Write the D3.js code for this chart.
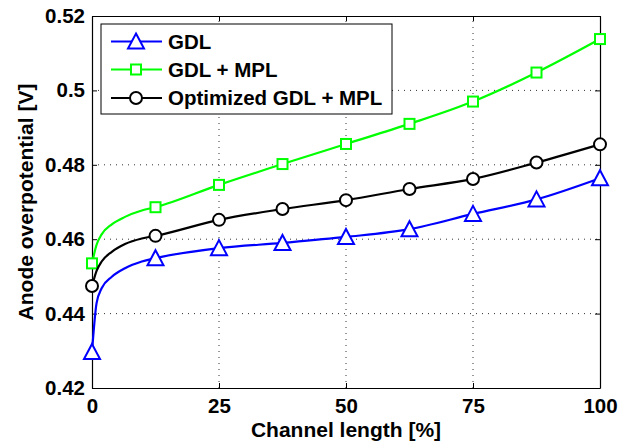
<!DOCTYPE html>
<meta charset="utf-8">
<head>
    <title>Anode overpotential</title>
    <script type="text/javascript" src="https://d3js.org/d3.v7.min.js"></script>
    <style>
        body { margin: 0; background: #fff; }
        text { font-family: "Liberation Sans", Arial, sans-serif; font-weight: bold; fill: #000; }
    </style>
</head>
<body>
    <div id="chart"></div>
    <script>
        // marker positions along the channel
        var xMarks = [0, 12.5, 25, 37.5, 50, 62.5, 75, 87.5, 100];
        var gdl = [0.4297, 0.4549, 0.4576, 0.4590, 0.4606, 0.4627, 0.4668, 0.4707, 0.4764];
        var gdlMpl = [0.4535, 0.4686, 0.4746, 0.4802, 0.4856, 0.4910, 0.4970, 0.5048, 0.5138];
        var optimized = [0.4474, 0.4609, 0.4652, 0.4681, 0.4705, 0.4735, 0.4762, 0.4806, 0.4855];

        // extra points
        var xNear = [0.9, 1.9, 3.9, 6.5, 9.8];
        var gdlNear = [0.4428, 0.4468, 0.4499, 0.4522, 0.4540];
        var gdlMplNear = [0.4585, 0.4613, 0.4640, 0.4660, 0.4677];
        var optimizedNear = [0.4515, 0.4540, 0.4566, 0.4587, 0.4602];

        var xTicks = [0, 25, 50, 75, 100];
        var yTicks = [0.42, 0.44, 0.46, 0.48, 0.5, 0.52];
        var seriesNames = ["GDL", "GDL + MPL", "Optimized GDL + MPL"];

        var width = 630, height = 442;
        var margin = { top: 16, left: 92, bottom: 54, right: 30 };

        var svg = d3.select("#chart").append("svg")
            .attr("width", width)
            .attr("height", height);

        var x = d3.scaleLinear().domain([0, 100]).range([margin.left, width - margin.right]);
        var y = d3.scaleLinear().domain([0.42, 0.52]).range([height - margin.bottom, margin.top]);

        // dotted grid
        var grid = svg.append("g").attr("class", "grid");
        grid.selectAll(".gx").data(xTicks.slice(1, -1)).enter().append("line")
            .attr("x1", d => x(d)).attr("x2", d => x(d))
            .attr("y1", y(0.42)).attr("y2", y(0.52))
            .attr("stroke", "#333").attr("stroke-width", 1).attr("stroke-dasharray", "1,5");
        grid.selectAll(".gy").data(yTicks.slice(1, -1)).enter().append("line")
            .attr("x1", x(0)).attr("x2", x(100))
            .attr("y1", d => y(d)).attr("y2", d => y(d))
            .attr("stroke", "#333").attr("stroke-width", 1).attr("stroke-dasharray", "1,5");

        // axes, ticks inward on all sides
        var fmtY = d => d === 0.5 ? "0.5" : d3.format(".2f")(d);
        svg.append("g")
            .attr("transform", `translate(0,${y(0.42)})`)
            .call(d3.axisBottom(x).tickValues(xTicks).tickSizeInner(-5).tickSizeOuter(0).tickPadding(10))
            .call(g => g.selectAll("text").attr("font-size", "20.5px"));
        svg.append("g")
            .attr("transform", `translate(0,${y(0.52)})`)
            .call(d3.axisTop(x).tickValues(xTicks).tickSizeInner(-5).tickSizeOuter(0).tickFormat(""));
        svg.append("g")
            .attr("transform", `translate(${x(0)},0)`)
            .call(d3.axisLeft(y).tickValues(yTicks).tickFormat(fmtY).tickSizeInner(-5).tickSizeOuter(0).tickPadding(7))
            .call(g => g.selectAll("text").attr("font-size", "20.5px"));
        svg.append("g")
            .attr("transform", `translate(${x(100)},0)`)
            .call(d3.axisRight(y).tickValues(yTicks).tickSizeInner(-5).tickSizeOuter(0).tickFormat(""));
        svg.selectAll(".domain").attr("stroke", "#000").attr("stroke-width", 1.2);
        svg.selectAll(".tick line").attr("stroke", "#000");
        svg.selectAll(".tick text").attr("fill", "#000").style("font-family", "Liberation Sans, Arial, sans-serif").style("font-weight", "bold");

        // axis titles
        svg.append("text")
            .attr("x", (x(0) + x(100)) / 2).attr("y", 437)
            .attr("text-anchor", "middle").attr("font-size", "21px")
            .text("Channel length [%]");
        svg.append("text")
            .attr("transform", `translate(33,${(y(0.42) + y(0.52)) / 2}) rotate(-90)`)
            .attr("text-anchor", "middle").attr("font-size", "21px")
            .text("Anode overpotential [V]");

        // series
        var series = [
            { name: seriesNames[0], vals: gdl, near: gdlNear, color: "#0000ff", marker: "triangle" },
            { name: seriesNames[1], vals: gdlMpl, near: gdlMplNear, color: "#00ff00", marker: "square" },
            { name: seriesNames[2], vals: optimized, near: optimizedNear, color: "#000000", marker: "circle" }
        ];

        var line = d3.line().x(d => x(d[0])).y(d => y(d[1])).curve(d3.curveMonotoneX);

        function drawMarker(g, type, color) {
            if (type === "triangle") {
                g.append("path").attr("d", "M0,-8 L8,7 L-8,7 Z");
            } else if (type === "square") {
                g.append("rect").attr("x", -5).attr("y", -5).attr("width", 10).attr("height", 10);
            } else {
                g.append("circle").attr("r", 6);
            }
            g.selectAll("*").attr("fill", "#fff").attr("stroke", color).attr("stroke-width", 2);
        }

        series.forEach(function(s) {
            var pts = xMarks.map((xv, i) => [xv, s.vals[i]]);
            var nearPts = xNear.map((xv, i) => [xv, s.near[i]]);
            var all = pts.concat(nearPts).sort((a, b) => a[0] - b[0]);
            svg.append("path")
                .attr("d", line(all))
                .attr("fill", "none")
                .attr("stroke", s.color)
                .attr("stroke-width", 2.2);
            pts.forEach(function(p) {
                var g = svg.append("g").attr("transform", `translate(${x(p[0])},${y(p[1])})`);
                drawMarker(g, s.marker, s.color);
            });
        });

        // legend
        var legend = svg.append("g").attr("class", "legend");
        legend.append("rect")
            .attr("x", 101).attr("y", 24).attr("width", 291).attr("height", 90)
            .attr("fill", "#fff").attr("stroke", "#000").attr("stroke-width", 1);
        var rowY = [41.5, 69.5, 98];
        series.forEach(function(s, i) {
            legend.append("line")
                .attr("x1", 111).attr("x2", 162)
                .attr("y1", rowY[i]).attr("y2", rowY[i])
                .attr("stroke", s.color).attr("stroke-width", 2.2);
            var g = legend.append("g").attr("transform", `translate(136,${rowY[i]})`);
            drawMarker(g, s.marker, s.color);
            legend.append("text")
                .attr("x", 168).attr("y", rowY[i] + 7)
                .attr("font-size", "20.5px")
                .text(s.name);
        });
    </script>
</body>
</html>
